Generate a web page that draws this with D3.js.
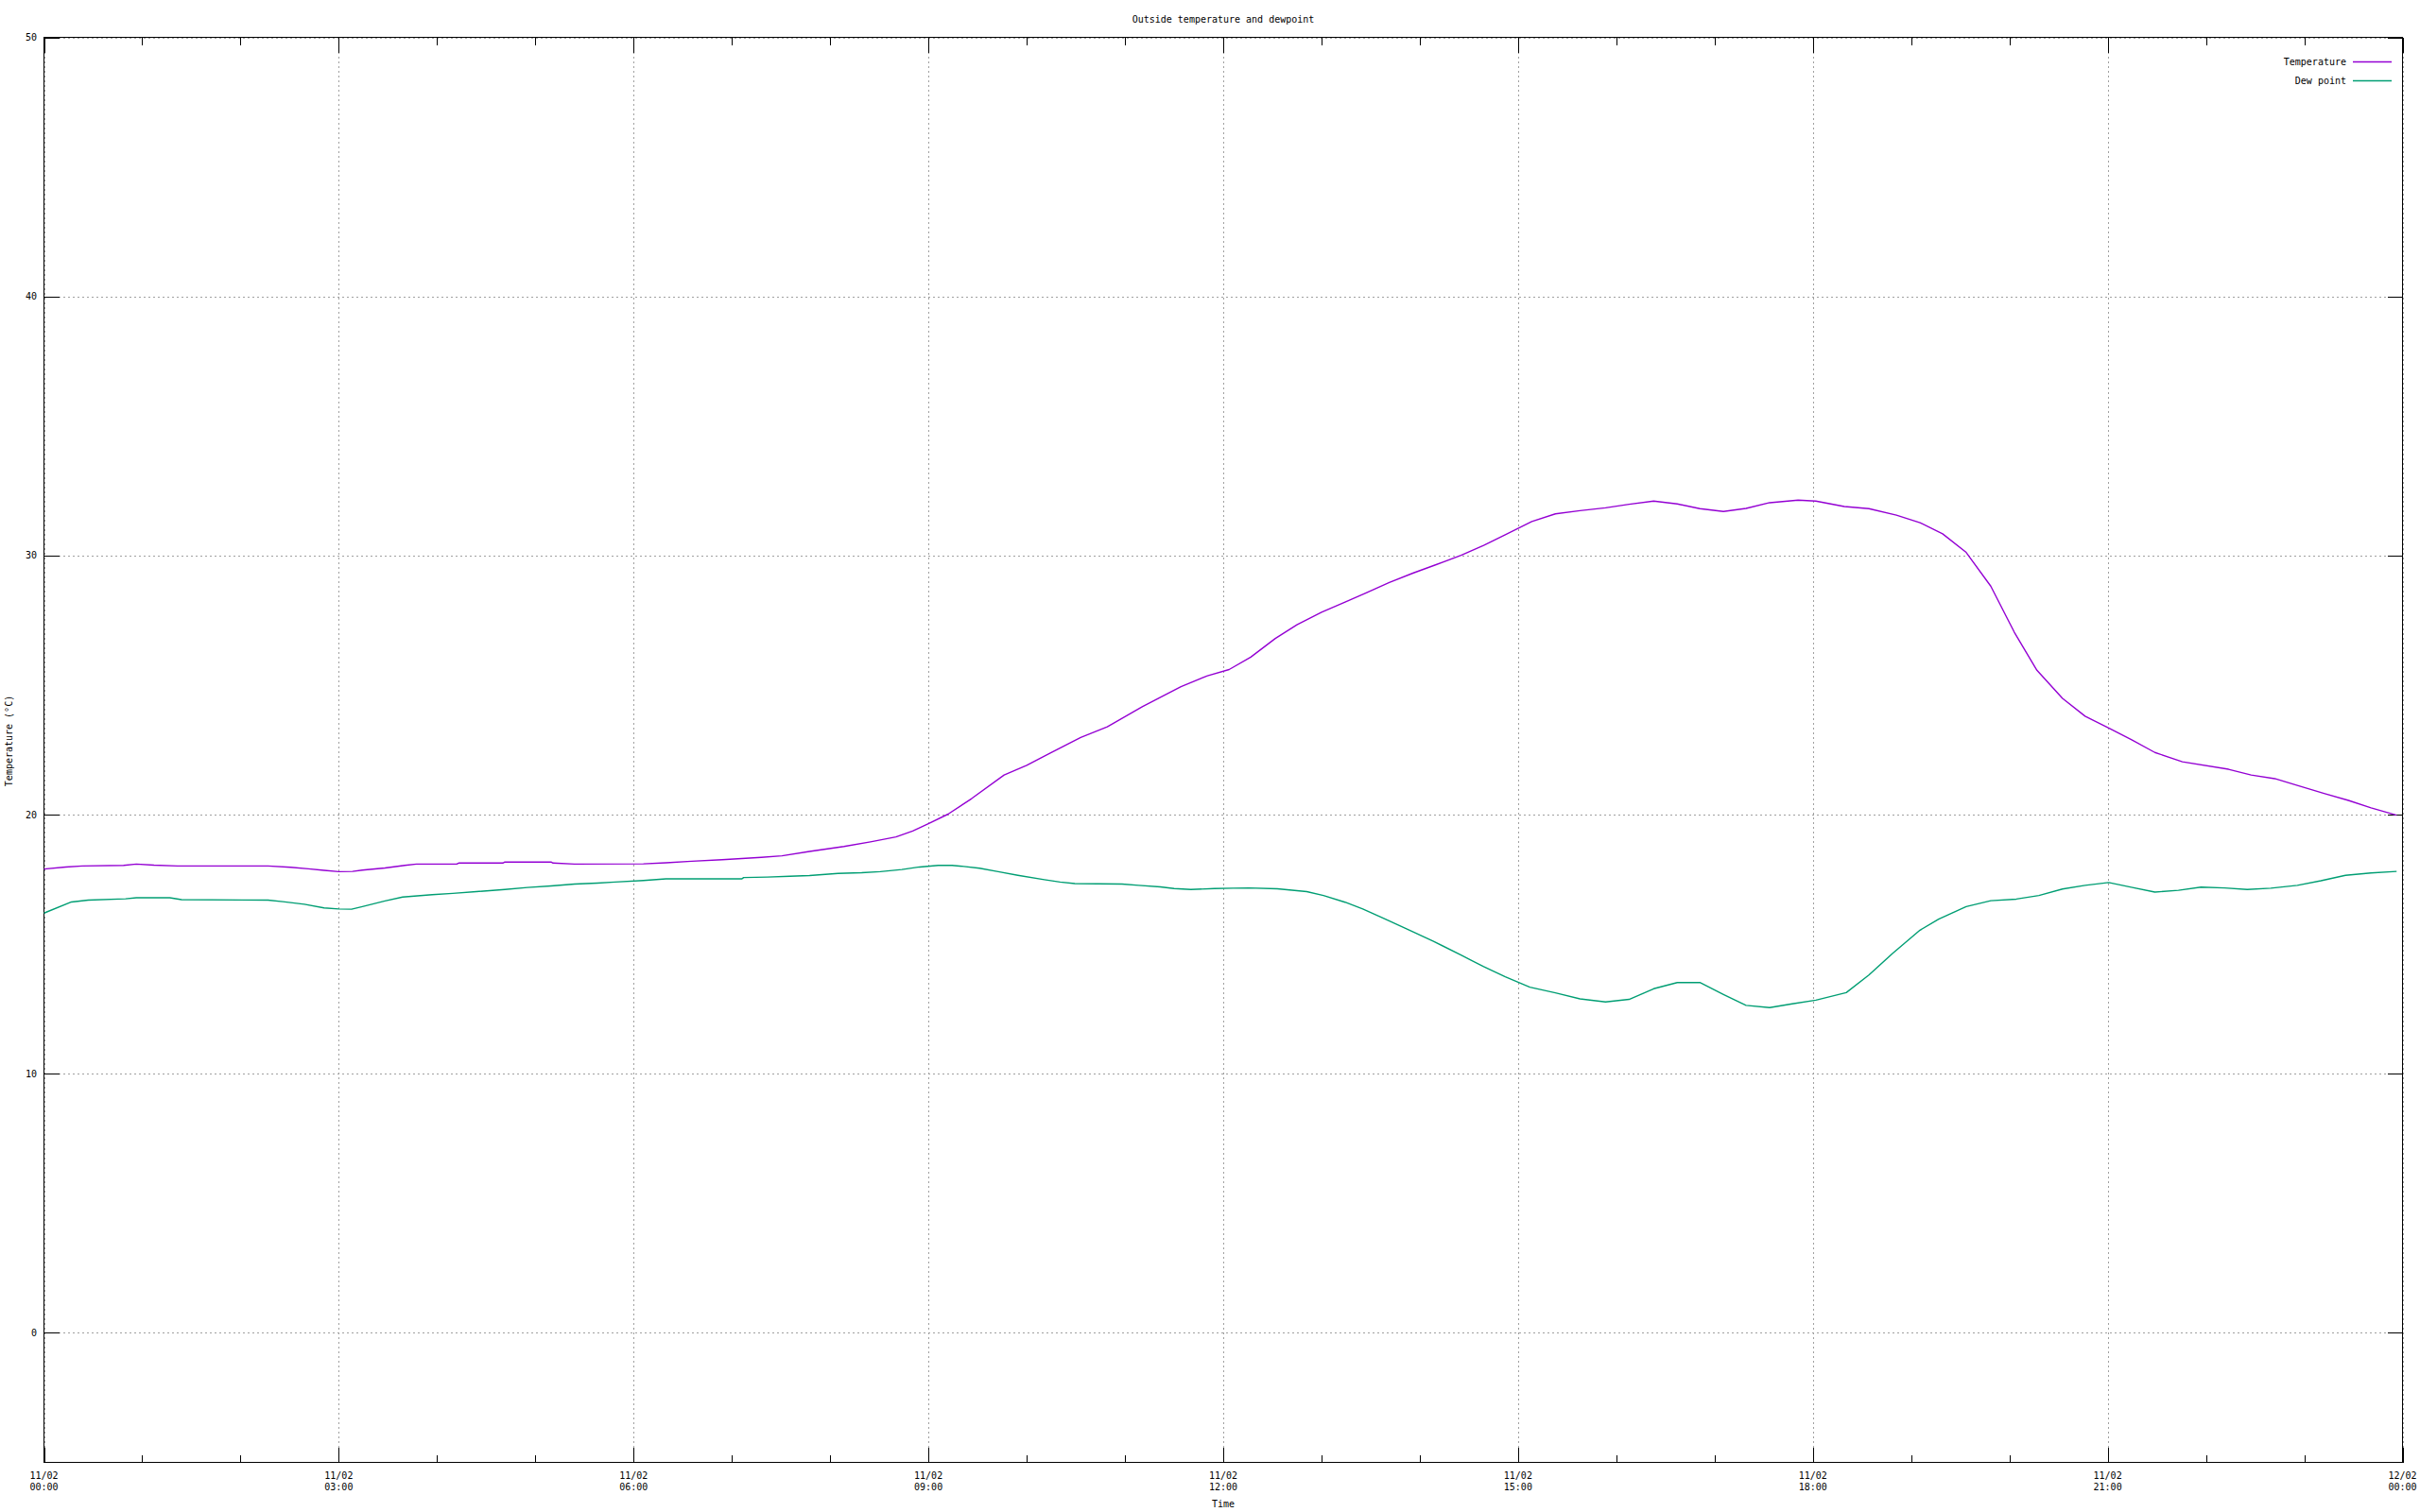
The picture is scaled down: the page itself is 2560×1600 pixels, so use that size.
<!DOCTYPE html>
<html><head><meta charset="utf-8">
<script src="https://cdn.jsdelivr.net/npm/d3@7"></script>
<style>
body{margin:0;background:#fff}
text{font-family:"DejaVu Sans Mono","Liberation Mono",monospace;font-size:10px;fill:#000}
</style>
</head><body>
<svg id="chart" width="2560" height="1600"></svg>
<script>
// ---------- data ----------
const chartTitle = "Outside temperature and dewpoint";
const xAxisTitle = "Time";
const yAxisTitle = "Temperature (°C)";
const seriesNames = ["Temperature", "Dew point"];
const seriesColors = ["#9400d3", "#009e73"];

const xMajorHours = [0, 3, 6, 9, 12, 15, 18, 21, 24];
const xTickDates = ["11/02","11/02","11/02","11/02","11/02","11/02","11/02","11/02","12/02"];
const xTickTimes = ["00:00","03:00","06:00","09:00","12:00","15:00","18:00","21:00","00:00"];
const xMinorHours = [1,2,4,5,7,8,10,11,13,14,16,17,19,20,22,23];
const yTicks = [0, 10, 20, 30, 40, 50];
const yDomain = [-5, 50];

// hours since 11/02 00:00
const tempHours = [0.0,0.22,0.39,0.81,0.94,1.12,1.36,2.28,2.51,2.69,2.85,3.0,3.14,3.24,3.47,3.67,3.79,4.2,4.22,4.67,4.69,5.16,5.18,5.40,6.1,6.33,6.59,6.90,7.30,7.51,7.79,8.14,8.41,8.67,8.84,9.0,9.20,9.44,9.77,10.0,10.24,10.55,10.82,11.18,11.57,11.84,12.06,12.28,12.53,12.75,13.0,13.24,13.46,13.69,13.93,14.16,14.42,14.65,14.87,15.14,15.38,15.63,15.89,16.13,16.38,16.62,16.85,17.09,17.32,17.56,17.85,18.03,18.32,18.57,18.85,19.09,19.32,19.56,19.81,20.05,20.28,20.54,20.77,21.01,21.24,21.48,21.76,22.23,22.46,22.70,22.93,23.21,23.45,23.68,23.94];
const tempValues = [17.90,17.98,18.02,18.04,18.09,18.05,18.02,18.02,17.97,17.91,17.85,17.80,17.81,17.86,17.94,18.04,18.09,18.09,18.13,18.13,18.17,18.17,18.13,18.09,18.10,18.14,18.20,18.26,18.35,18.41,18.58,18.77,18.95,19.14,19.37,19.65,20.02,20.62,21.53,21.90,22.38,22.98,23.39,24.17,24.94,25.36,25.60,26.08,26.80,27.33,27.81,28.20,28.57,28.96,29.32,29.64,30.01,30.39,30.80,31.31,31.61,31.73,31.84,31.98,32.10,31.99,31.81,31.70,31.82,32.04,32.14,32.10,31.89,31.81,31.56,31.27,30.84,30.12,28.82,27.04,25.57,24.49,23.80,23.34,22.90,22.40,22.04,21.75,21.53,21.39,21.13,20.81,20.55,20.26,19.98];

const dewHours = [0.0,0.28,0.45,0.83,0.94,1.28,1.40,2.28,2.43,2.65,2.85,3.0,3.13,3.24,3.47,3.65,3.95,4.16,4.40,4.69,4.92,5.16,5.40,5.63,5.81,6.1,6.33,7.1,7.12,7.36,7.59,7.79,8.08,8.32,8.51,8.73,8.91,9.10,9.24,9.36,9.52,9.71,9.91,10.18,10.34,10.49,10.97,11.14,11.36,11.50,11.67,11.91,12.10,12.26,12.55,12.85,13.02,13.24,13.42,13.65,13.87,14.14,14.42,14.65,14.87,15.12,15.38,15.63,15.89,16.13,16.38,16.62,16.85,17.09,17.32,17.56,17.79,18.03,18.34,18.57,18.81,19.09,19.28,19.56,19.81,20.07,20.30,20.54,20.77,21.01,21.24,21.48,21.72,21.95,22.19,22.42,22.66,22.93,23.17,23.42,23.68,23.94];
const dewValues = [16.20,16.63,16.70,16.75,16.79,16.79,16.72,16.70,16.64,16.54,16.40,16.36,16.35,16.45,16.67,16.82,16.91,16.96,17.03,17.11,17.19,17.25,17.32,17.36,17.40,17.46,17.52,17.52,17.57,17.59,17.62,17.65,17.73,17.76,17.80,17.88,17.98,18.04,18.04,18.00,17.93,17.80,17.66,17.49,17.40,17.34,17.32,17.27,17.21,17.15,17.11,17.15,17.16,17.17,17.14,17.03,16.88,16.62,16.36,15.97,15.58,15.11,14.58,14.13,13.74,13.34,13.12,12.89,12.77,12.87,13.28,13.52,13.52,13.06,12.64,12.55,12.70,12.84,13.13,13.81,14.64,15.54,15.97,16.45,16.68,16.74,16.88,17.13,17.27,17.38,17.20,17.01,17.08,17.20,17.17,17.11,17.16,17.27,17.45,17.66,17.75,17.81];

// ---------- layout ----------
const L = 46.5, R = 2541.5, T = 39.5, B = 1547.5;
const svg = d3.select("#chart");
const x = d3.scaleLinear().domain([0, 24]).range([L, R]);
const y = d3.scaleLinear().domain(yDomain).range([B, T]);

// grid
const grid = svg.append("g").attr("stroke", "#a0a0a0").attr("stroke-width", 1)
  .attr("stroke-dasharray", "2,3").attr("shape-rendering", "crispEdges");
grid.selectAll("line.gx").data(xMajorHours).join("line")
  .attr("x1", d => Math.round(x(d)) + 0.5).attr("x2", d => Math.round(x(d)) + 0.5)
  .attr("y1", T).attr("y2", B);
grid.selectAll("line.gy").data(yTicks).join("line")
  .attr("y1", d => Math.round(y(d)) + 0.5).attr("y2", d => Math.round(y(d)) + 0.5)
  .attr("x1", L).attr("x2", R);

// axes (ticks pointing inward, gnuplot style)
function styleAxis(g) {
  g.select(".domain").remove();
  g.selectAll(".tick line").attr("stroke", "#000").attr("shape-rendering", "crispEdges");
  g.selectAll(".tick text").remove();
}
svg.append("g").attr("transform", `translate(0,${B})`)
  .call(d3.axisBottom(x).tickValues(xMajorHours).tickSize(-16).tickFormat(""))
  .call(styleAxis);
svg.append("g").attr("transform", `translate(0,${B})`)
  .call(d3.axisBottom(x).tickValues(xMinorHours).tickSize(-8).tickFormat(""))
  .call(styleAxis);
svg.append("g").attr("transform", `translate(0,${T})`)
  .call(d3.axisTop(x).tickValues(xMajorHours).tickSize(-16).tickFormat(""))
  .call(styleAxis);
svg.append("g").attr("transform", `translate(0,${T})`)
  .call(d3.axisTop(x).tickValues(xMinorHours).tickSize(-8).tickFormat(""))
  .call(styleAxis);
svg.append("g").attr("transform", `translate(${L},0)`)
  .call(d3.axisLeft(y).tickValues(yTicks).tickSize(-16).tickFormat(""))
  .call(styleAxis);
svg.append("g").attr("transform", `translate(${R},0)`)
  .call(d3.axisRight(y).tickValues(yTicks).tickSize(-16).tickFormat(""))
  .call(styleAxis);

// border
svg.append("rect").attr("x", L).attr("y", T).attr("width", R - L).attr("height", B - T)
  .attr("fill", "none").attr("stroke", "#000").attr("stroke-width", 1)
  .attr("shape-rendering", "crispEdges");

// tick labels
svg.append("g").selectAll("text").data(yTicks).join("text")
  .attr("x", 39).attr("y", d => y(d)).attr("dy", "0.35em")
  .attr("text-anchor", "end").text(d => d);
const xl = svg.append("g").selectAll("text").data(xMajorHours).join("text")
  .attr("text-anchor", "middle");
xl.append("tspan").attr("x", d => x(d)).attr("y", 1565).text((d, i) => xTickDates[i]);
xl.append("tspan").attr("x", d => x(d)).attr("y", 1577).text((d, i) => xTickTimes[i]);

// titles
svg.append("text").attr("x", (L + R) / 2).attr("y", 24).attr("text-anchor", "middle").text(chartTitle);
svg.append("text").attr("x", (L + R) / 2).attr("y", 1595).attr("text-anchor", "middle").text(xAxisTitle);
svg.append("text").attr("transform", `translate(13,784) rotate(-90)`)
  .attr("text-anchor", "middle").text(yAxisTitle);

// series
const series = [
  {hours: tempHours, values: tempValues},
  {hours: dewHours, values: dewValues}
];
const line = d3.line().x(d => x(d[0])).y(d => y(d[1]));
series.forEach((s, i) => {
  svg.append("path")
    .datum(s.hours.map((h, j) => [h, s.values[j]]))
    .attr("d", line).attr("fill", "none")
    .attr("stroke", seriesColors[i]).attr("stroke-width", 1.4)
    .attr("stroke-linejoin", "round");
});

// legend
const lg = svg.append("g");
seriesNames.forEach((name, i) => {
  const ly = 65.5 + i * 20;
  lg.append("text").attr("x", 2482).attr("y", ly).attr("dy", "0.35em")
    .attr("text-anchor", "end").text(name);
  lg.append("line").attr("x1", 2489).attr("x2", 2530).attr("y1", ly).attr("y2", ly)
    .attr("stroke", seriesColors[i]).attr("stroke-width", 1.4);
});
</script>
</body></html>
